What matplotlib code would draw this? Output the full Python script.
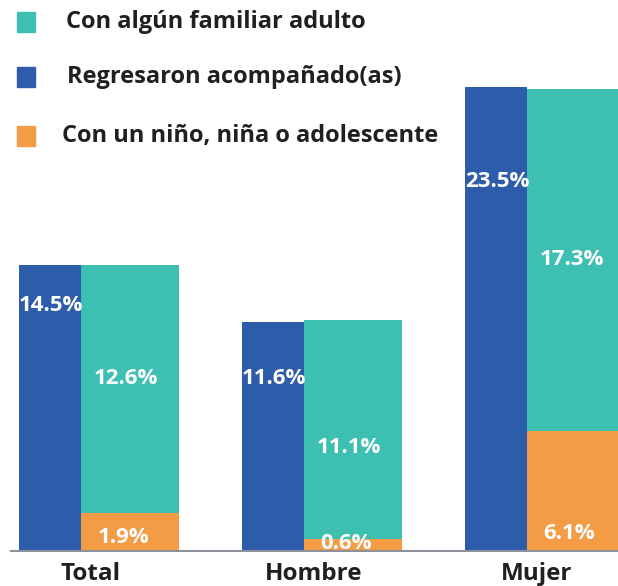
import numpy as np
import matplotlib.pyplot as plt

categories = ["Total", "Hombre", "Mujer"]
acompanados = [14.5, 11.6, 23.5]
familiar_adulto = [12.6, 11.1, 17.3]
nino_adolescente = [1.9, 0.6, 6.1]

legend_labels = ["Con algún familiar adulto",
                 "Regresaron acompañado(as)",
                 "Con un niño, niña o adolescente"]

BLUE = "#2c5caa"
TEAL = "#3dbfb1"
ORANGE = "#f49b45"

plt.rcParams['font.family'] = ['Open Sans', 'DejaVu Sans']

fig = plt.figure(figsize=(6.18, 5.86), dpi=100)
# axes: x in group units (223 px per group), y from baseline to top of Mujer
ax = fig.add_axes([0, 1 - 551 / 586, 1, (551 - 87) / 586])

x = np.arange(len(categories))
w_blue = 62 / 223
w_teal = 98 / 223

ax.bar(x, acompanados, width=w_blue, align='edge', color=BLUE)
ax.bar(x + w_blue, nino_adolescente, width=w_teal, align='edge', color=ORANGE)
ax.bar(x + w_blue, familiar_adulto, width=w_teal, align='edge',
       bottom=nino_adolescente, color=TEAL)

ax.set_xlim(-19 / 223, (618 - 19) / 223)
ax.set_ylim(0, 23.5)

# value labels (hand placed as in the original)
blue_y = [12.45, 8.75, 18.7]
teal_y = [8.75, 5.25, 14.75]
orange_y = [0.7, 0.4, 0.9]
lab = dict(color='white', fontsize=16, fontweight='bold', ha='center', va='center')
for i in range(len(categories)):
    ax.text(x[i] + w_blue / 2 + 0.005, blue_y[i], f"{acompanados[i]}%", **lab)
    ax.text(x[i] + w_blue + w_teal / 2 - 0.02, teal_y[i], f"{familiar_adulto[i]}%", **lab)
    ax.text(x[i] + w_blue + w_teal / 2 - 0.03, orange_y[i], f"{nino_adolescente[i]}%", **lab)

for s in ['top', 'right', 'left']:
    ax.spines[s].set_visible(False)
ax.spines['bottom'].set_color('#8b9099')
ax.spines['bottom'].set_linewidth(1.5)
ax.spines['bottom'].set_bounds(-8 / 223, 3)
ax.set_yticks([])
ax.set_xticks(x + 72 / 223)
ax.set_xticklabels(categories, fontsize=17.5, fontweight='bold', color='#231f20')
ax.tick_params(axis='x', length=0, pad=8)

# legend drawn as squares + text at the top
leg_colors = [TEAL, BLUE, ORANGE]
leg_y = [22, 77, 136]
leg_tx = [66, 67, 62]
for c, py, tx, t in zip(leg_colors, leg_y, leg_tx, legend_labels):
    fig.patches.append(plt.Rectangle((17 / 618, 1 - (py + 10) / 586), 18 / 618, 20 / 586,
                                     transform=fig.transFigure, color=c))
    fig.text(tx / 618, 1 - py / 586, t, fontsize=17, fontweight='bold',
             color='#231f20', ha='left', va='center')

fig.savefig("out.png", dpi=100)
